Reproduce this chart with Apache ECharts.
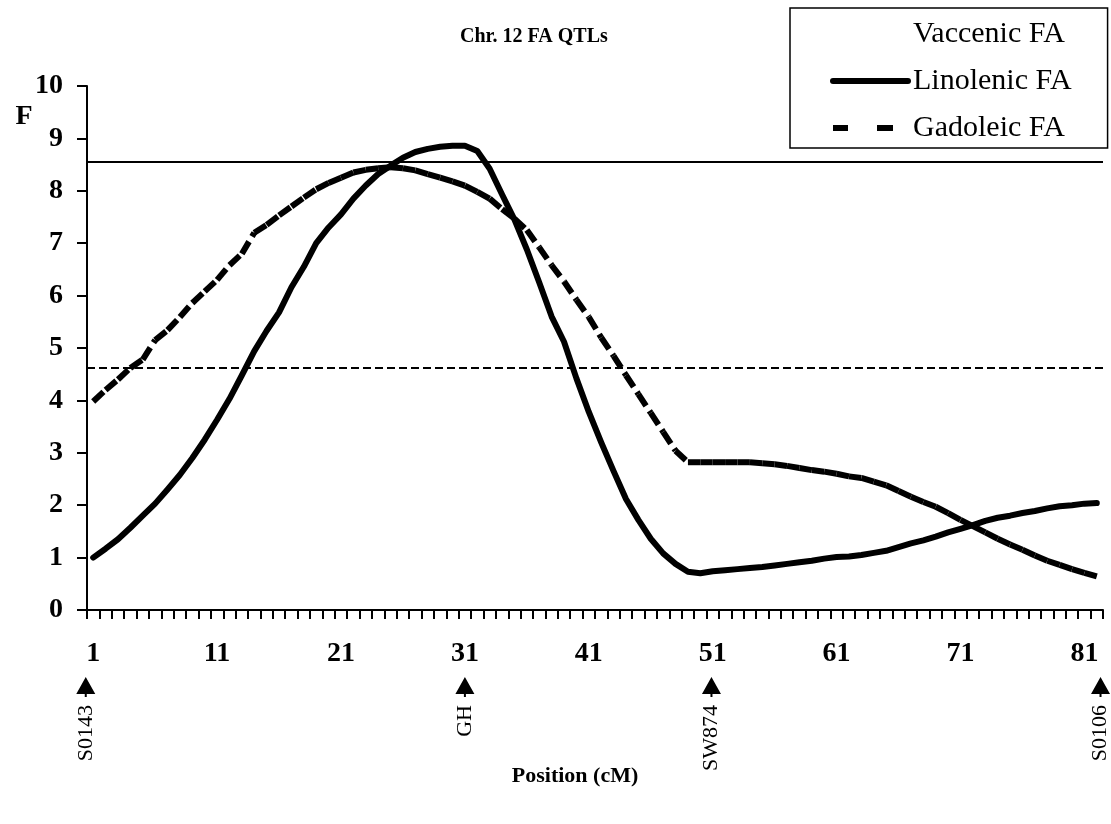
<!DOCTYPE html>
<html>
<head>
<meta charset="utf-8">
<script src="https://cdn.jsdelivr.net/npm/echarts@6/dist/echarts.min.js"></script>
<style>html,body{margin:0;padding:0;background:#fff}#c{width:1111px;height:824px}</style>
</head>
<body>
<div id="c"></div>
<script>
// ---- data ----
const positions = ['1','2','3','4','5','6','7','8','9','10','11','12','13','14','15','16','17','18','19','20',
  '21','22','23','24','25','26','27','28','29','30','31','32','33','34','35','36','37','38','39','40',
  '41','42','43','44','45','46','47','48','49','50','51','52','53','54','55','56','57','58','59','60',
  '61','62','63','64','65','66','67','68','69','70','71','72','73','74','75','76','77','78','79','80','81','82'];

const vaccenic = [];

const linolenic = [1.00,1.17,1.35,1.57,1.80,2.03,2.30,2.58,2.90,3.25,
  3.63,4.03,4.48,4.94,5.33,5.68,6.16,6.55,7.00,7.30,
  7.55,7.85,8.10,8.32,8.48,8.63,8.74,8.80,8.84,8.86,
  8.86,8.76,8.42,7.93,7.45,6.88,6.25,5.60,5.12,4.42,
  3.78,3.20,2.65,2.12,1.72,1.36,1.08,0.88,0.73,0.70,
  0.74,0.76,0.78,0.80,0.82,0.85,0.88,0.91,0.94,0.98,
  1.01,1.02,1.05,1.09,1.13,1.20,1.27,1.33,1.40,1.48,
  1.55,1.62,1.70,1.76,1.80,1.85,1.89,1.94,1.98,2.00,
  2.03,2.04];

const gadoleic = [3.98,4.20,4.40,4.62,4.78,5.15,5.34,5.59,5.86,6.08,
  6.30,6.58,6.80,7.20,7.35,7.53,7.70,7.87,8.03,8.15,
  8.25,8.35,8.40,8.43,8.45,8.43,8.39,8.32,8.25,8.18,
  8.10,7.98,7.85,7.65,7.47,7.25,6.92,6.58,6.27,5.92,
  5.59,5.20,4.85,4.48,4.12,3.76,3.40,3.04,2.82,2.82,
  2.82,2.82,2.82,2.82,2.80,2.78,2.75,2.71,2.67,2.64,
  2.60,2.55,2.52,2.45,2.38,2.27,2.16,2.06,1.97,1.85,
  1.72,1.60,1.48,1.36,1.25,1.15,1.04,0.94,0.86,0.78,
  0.71,0.64];

const thresholds = [8.55, 4.62];

const markerNames = ['S0143', 'GH', 'SW874', 'S0106'];
const markerPos = [0.4, 31.0, 50.9, 82.3];

// ---- chart ----
const SERIF = '"Liberation Serif", "Times New Roman", serif';
const chart = echarts.init(document.getElementById('c'), null, {renderer: 'canvas'});

const gadSegments = [];
for (let i = 0; i < gadoleic.length - 1; i++) {
  gadSegments.push([i, gadoleic[i], gadoleic[i + 1]]);
}

const option = {
  animation: false,
  backgroundColor: '#fff',
  title: {
    text: 'Chr. 12 FA QTLs',
    left: 455, top: 22,
    textStyle: {fontFamily: SERIF, fontSize: 20, fontWeight: 'bold', color: '#000'}
  },
  legend: {
    left: 790, top: 8,
    orient: 'vertical',
    padding: [11, 36, 5, 40],
    itemGap: 17,
    itemWidth: 75,
    itemHeight: 6,
    borderColor: '#000',
    borderWidth: 1.5,
    borderRadius: 0,
    backgroundColor: '#fff',
    selectedMode: false,
    symbolKeepAspect: false,
    textStyle: {fontFamily: SERIF, fontSize: 30, color: '#000'},
    data: [
      {name: 'Vaccenic FA', itemStyle: {opacity: 0}, lineStyle: {opacity: 0}},
      {name: 'Linolenic FA', lineStyle: {width: 6, cap: 'round'}},
      {name: 'Gadoleic FA', icon: 'path://M0,0H15V6H0Z M44,0H60V6H44Z M75,6', itemStyle: {color: '#000'}}
    ]
  },
  grid: [
    {left: 87, right: 8, top: 86, bottom: 214},
    {left: 87, right: 8, top: 677, height: 20}
  ],
  xAxis: [
    {
      type: 'category', gridIndex: 0, data: positions, boundaryGap: true,
      axisLine: {show: true, lineStyle: {color: '#000', width: 2}},
      axisTick: {show: true, interval: 0, length: 9, lineStyle: {color: '#000', width: 2}},
      axisLabel: {interval: 9, margin: 30, color: '#000', fontFamily: SERIF, fontSize: 28, fontWeight: 'bold'},
      splitLine: {show: false}
    },
    {type: 'value', gridIndex: 1, min: 0.5, max: 82.5, show: false}
  ],
  yAxis: [
    {
      type: 'value', gridIndex: 0, min: 0, max: 10, interval: 1,
      axisLine: {show: true, lineStyle: {color: '#000', width: 2}},
      axisTick: {show: true, length: 10, lineStyle: {color: '#000', width: 2}},
      axisLabel: {margin: 24, color: '#000', fontFamily: SERIF, fontSize: 28, fontWeight: 'bold'},
      splitLine: {show: false}
    },
    {type: 'value', gridIndex: 1, min: 0, max: 1, show: false}
  ],
  graphic: [
    {type: 'text', x: 24, y: 117, style: {text: 'F', fontFamily: SERIF, fontSize: 28, fontWeight: 'bold', fill: '#000', align: 'center', verticalAlign: 'middle'}},
    {type: 'text', x: 575, y: 776, style: {text: 'Position (cM)', fontFamily: SERIF, fontSize: 22, fontWeight: 'bold', fill: '#000', align: 'center', verticalAlign: 'middle'}}
  ],
  series: [
    {
      name: 'Vaccenic FA', type: 'line', data: vaccenic, symbol: 'none',
      lineStyle: {opacity: 0, color: '#000'},
      itemStyle: {opacity: 0, color: '#000'}
    },
    {
      name: 'Gadoleic FA', type: 'custom', xAxisIndex: 0, yAxisIndex: 0,
      data: gadSegments,
      encode: {x: 0, y: 1},
      itemStyle: {color: '#000'},
      renderItem: function (params, api) {
        const i = api.value(0);
        const p1 = api.coord([i, api.value(1)]);
        const p2 = api.coord([i + 1, api.value(2)]);
        return {
          type: 'line',
          shape: {x1: p1[0], y1: p1[1], x2: p2[0], y2: p2[1]},
          style: {stroke: '#000', lineWidth: 6, lineDash: [14, 6], lineCap: 'butt'}
        };
      },
      z: 3
    },
    {
      name: 'Linolenic FA', type: 'line', data: linolenic, symbol: 'none', smooth: false,
      lineStyle: {color: '#000', width: 6, cap: 'round', join: 'round'},
      itemStyle: {color: '#000'},
      z: 4,
      markLine: {
        silent: true, symbol: 'none', animation: false,
        label: {show: false},
        data: [
          {yAxis: thresholds[0], lineStyle: {color: '#000', width: 2, type: 'solid'}},
          {yAxis: thresholds[1], lineStyle: {color: '#000', width: 2, type: [8, 4]}}
        ]
      }
    },
    {
      type: 'scatter', xAxisIndex: 1, yAxisIndex: 1, silent: true, clip: false,
      data: markerPos.map((p, i) => ({name: markerNames[i], value: [p, 0.5]})),
      symbol: 'path://M9.5,0 L19,17 L0,17 Z M8.5,17 H10.5 V20 H8.5 Z',
      symbolSize: [19, 20],
      itemStyle: {color: '#000', opacity: 1},
      label: {
        show: true, formatter: '{b}', position: ['50%', 28], rotate: 90,
        align: 'right', verticalAlign: 'middle',
        fontFamily: SERIF, fontSize: 22, color: '#000'
      }
    }
  ]
};
chart.setOption(option);
</script>
</body>
</html>
